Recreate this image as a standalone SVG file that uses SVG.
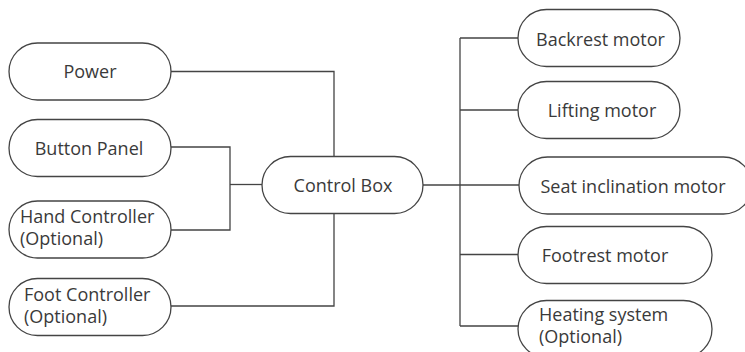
<svg xmlns="http://www.w3.org/2000/svg" width="745" height="352" viewBox="0 0 745 352">
<style>
.n{fill:#fff;stroke:#444;stroke-width:1.3}
.c{fill:none;stroke:#444;stroke-width:1.3}
text{font-family:"Open Sans","Noto Sans","Liberation Sans",sans-serif;font-size:18px;fill:#3a3a3a}
.m{text-anchor:middle}
</style>
<rect width="745" height="352" fill="#fff"/>
<g id="connectors">
<path class="c" d="M171,71.5 H334 V156.5"/>
<path class="c" d="M171,147 H230 V230 H171"/>
<path class="c" d="M230,184.5 H262"/>
<path class="c" d="M171,306 H334 V213.5"/>
<path class="c" d="M423,185 H519"/>
<path class="c" d="M460,38 V326"/>
<path class="c" d="M460,38 H518 M460,110 H518 M460,254.5 H518 M460,326 H518"/>
</g>
<g id="power"><rect class="n" x="9" y="43" width="162" height="57" rx="28.5"/><text class="m" x="90" y="78">Power</text></g>
<g id="button-panel"><rect class="n" x="9" y="119.5" width="162" height="57" rx="28.5"/><text class="m" x="89" y="155">Button Panel</text></g>
<g id="hand-controller"><rect class="n" x="9" y="201" width="162" height="57" rx="28.5"/><text x="20" y="223">Hand Controller</text><text x="20" y="245">(Optional)</text></g>
<g id="foot-controller"><rect class="n" x="9" y="278.5" width="162" height="57" rx="28.5"/><text x="24" y="301">Foot Controller</text><text x="24" y="323">(Optional)</text></g>
<g id="control-box"><rect class="n" x="262" y="156.5" width="161" height="57" rx="28.5"/><text class="m" x="343" y="192">Control Box</text></g>
<g id="backrest-motor"><rect class="n" x="518" y="9.5" width="162" height="57" rx="28.5"/><text class="m" x="600.5" y="45.5">Backrest motor</text></g>
<g id="lifting-motor"><rect class="n" x="518" y="81.5" width="162" height="57" rx="28.5"/><text class="m" x="602" y="117">Lifting motor</text></g>
<g id="seat-inclination-motor"><rect class="n" x="519" y="157" width="233" height="57" rx="28.5"/><text class="m" x="633" y="192.5">Seat inclination motor</text></g>
<g id="footrest-motor"><rect class="n" x="518" y="226.5" width="194" height="57" rx="28.5"/><text class="m" x="605" y="262">Footrest motor</text></g>
<g id="heating-system"><rect class="n" x="518" y="300.5" width="194" height="57" rx="28.5"/><text x="539" y="321">Heating system</text><text x="539" y="343">(Optional)</text></g>
</svg>
